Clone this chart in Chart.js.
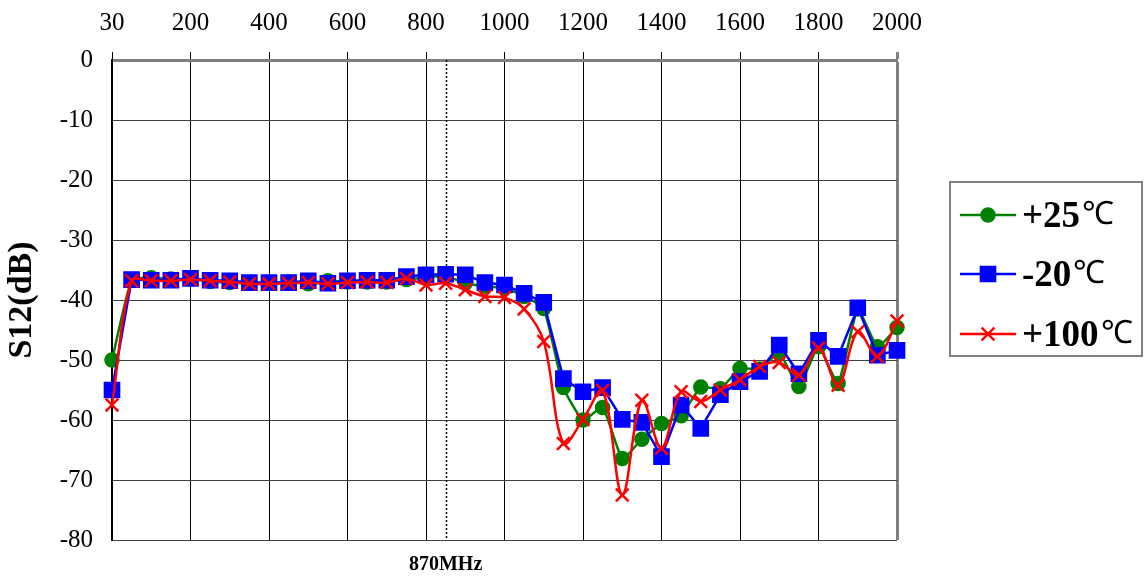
<!DOCTYPE html>
<html lang="en">
<head>
<meta charset="UTF-8">
<title>S12 vs frequency</title>
<script src="https://cdn.jsdelivr.net/npm/chart.js"></script>
<style>
  body { margin: 0; background: #fff; }
  #wrap { position: relative; width: 1144px; height: 578px; }
</style>
</head>
<body>
<div id="wrap"><canvas id="myChart" width="1144" height="578"></canvas></div>
<script>
// frequency points (MHz)
const freqs = ['30', '50', '100', '150', '200', '250', '300', '350', '400', '450',
  '500', '550', '600', '650', '700', '750', '800', '850', '900', '950',
  '1000', '1050', '1100', '1150', '1200', '1250', '1300', '1350', '1400', '1450',
  '1500', '1550', '1600', '1650', '1700', '1750', '1800', '1850', '1900', '1950', '2000'];

const s12At25 = [-50, -36.7, -36.3, -36.5, -36.5, -36.9, -37.1, -37.2, -37.2, -37.0,
  -37.3, -36.8, -37.0, -37.0, -37.0, -36.6, -36.2, -36.0, -37.2, -37.7,
  -38.0, -39.4, -41.4, -54.6, -60.0, -57.9, -66.4, -63.2, -60.6, -59.3,
  -54.5, -54.8, -51.4, -51.5, -48.9, -54.4, -47.8, -53.9, -41.5, -47.8, -44.6];

const s12AtMinus20 = [-55, -36.6, -36.7, -36.7, -36.4, -36.7, -36.8, -37.1, -37.1, -37.1,
  -36.8, -37.2, -36.8, -36.7, -36.7, -36.1, -35.8, -35.7, -35.8, -37.1,
  -37.5, -38.9, -40.4, -53.1, -55.3, -54.6, -59.9, -60.4, -66.1, -57.5,
  -61.4, -55.8, -53.6, -51.9, -47.5, -52.3, -46.7, -49.4, -41.3, -49.2, -48.4];

const s12At100 = [-57.5, -36.8, -36.8, -36.8, -36.6, -36.8, -37.0, -37.3, -37.3, -37.2,
  -37.1, -37.3, -37.1, -37.0, -37.1, -36.4, -37.5, -37.2, -38.3, -39.4,
  -39.6, -41.5, -46.9, -63.9, -59.9, -55.1, -72.5, -56.7, -64.7, -55.3,
  -56.9, -55.0, -53.3, -51.1, -50.4, -52.5, -48.0, -54.2, -45.3, -49.4, -43.5];

const markerIndex = 17;          // dotted marker line
const markerLabel = '870MHz';
const legendItems = [
  { text: '+25', color: '#008000', style: 'circle' },
  { text: '-20', color: '#0000ff', style: 'rect' },
  { text: '+100', color: '#ff0000', style: 'crossRot' }
];

const serif = '"Liberation Serif", "Times New Roman", serif';

// dotted 870MHz line and its label
const markerPlugin = {
  id: 'markerLine',
  beforeDatasetsDraw(chart) {
    const { ctx, chartArea, scales: { x } } = chart;
    const px = Math.round(x.getPixelForValue(markerIndex)) + 0.5;
    ctx.save();
    ctx.strokeStyle = '#000';
    ctx.lineWidth = 1.5;
    ctx.setLineDash([2, 2]);
    ctx.beginPath();
    ctx.moveTo(px, chartArea.top);
    ctx.lineTo(px, chartArea.bottom);
    ctx.stroke();
    ctx.restore();
  },
  afterDraw(chart) {
    const { ctx, chartArea, scales: { x } } = chart;
    const px = x.getPixelForValue(markerIndex);
    ctx.save();
    ctx.font = 'bold 20px ' + serif;
    ctx.fillStyle = '#000';
    ctx.textAlign = 'center';
    ctx.textBaseline = 'middle';
    ctx.fillText(markerLabel, px, chartArea.bottom + 25);
    ctx.restore();
  }
};

// boxed legend on the right
const boxLegendPlugin = {
  id: 'boxLegend',
  afterDraw(chart) {
    const { ctx } = chart;
    ctx.save();
    ctx.strokeStyle = '#808080';
    ctx.lineWidth = 2;
    ctx.strokeRect(950, 182, 192, 174);
    const rows = [215, 274, 334];
    legendItems.forEach((item, i) => {
      const y = rows[i];
      ctx.strokeStyle = item.color;
      ctx.lineWidth = 2.5;
      ctx.beginPath();
      ctx.moveTo(960, y);
      ctx.lineTo(1016, y);
      ctx.stroke();
      ctx.fillStyle = item.color;
      const r = item.style === 'circle' ? 6.5 : (item.style === 'rect' ? 10 : 9);
      Chart.helpers.drawPoint(ctx, { pointStyle: item.style, radius: r, borderWidth: 2.5, rotation: 0 }, 988, y);
      ctx.fillStyle = '#000';
      ctx.textAlign = 'left';
      ctx.textBaseline = 'middle';
      ctx.font = 'bold 37px ' + serif;
      ctx.fillText(item.text, 1022, y + 2);
      const w = ctx.measureText(item.text).width;
      ctx.font = '32px ' + serif;
      ctx.fillText('\u2103', 1022 + w + 2, y + 1);
    });
    ctx.restore();
  }
};

const config = {
  type: 'line',
  data: {
    labels: freqs,
    datasets: [
      {
        label: '+25℃', data: s12At25, order: 3,
        borderColor: '#008000', backgroundColor: '#008000',
        borderWidth: 2.5, pointStyle: 'circle', pointRadius: 6.5,
        tension: 0.15, clip: false
      },
      {
        label: '-20℃', data: s12AtMinus20, order: 2,
        borderColor: '#0000ff', backgroundColor: '#0000ff',
        borderWidth: 2.5, pointStyle: 'rect', pointRadius: 10,
        tension: 0, clip: false
      },
      {
        label: '+100℃', data: s12At100, order: 1,
        borderColor: '#ff0000', backgroundColor: '#ff0000',
        borderWidth: 2.5, pointStyle: 'crossRot', pointRadius: 9, pointBorderWidth: 2.5,
        tension: 0.35, clip: false
      }
    ]
  },
  options: {
    responsive: false,
    animation: false,
    layout: { autoPadding: false, padding: { left: 0, top: 0, right: 247, bottom: 38 } },
    plugins: {
      legend: { display: false },
      tooltip: { enabled: false }
    },
    elements: { point: { hoverRadius: 0 } },
    scales: {
      x: {
        type: 'category',
        position: 'top',
        afterFit(scale) { scale.height = 60; },
        ticks: {
          autoSkip: false,
          maxRotation: 0,
          padding: 14,
          color: '#000',
          font: { family: serif, size: 25 },
          callback(value, index) { return index % 4 === 0 ? freqs[index] : ''; }
        },
        grid: {
          tickLength: 8,
          color(ctx) {
            if (ctx.index === freqs.length - 1) return '#808080';
            return ctx.index % 4 === 0 ? '#000' : 'rgba(0,0,0,0)';
          },
          lineWidth(ctx) { return ctx.index === freqs.length - 1 ? 3 : 1; }
        },
        border: { color: '#808080', width: 3 }
      },
      y: {
        min: -80,
        max: 0,
        afterFit(scale) { scale.width = 112; },
        ticks: {
          stepSize: 10,
          padding: 19,
          color: '#000',
          font: { family: serif, size: 25 }
        },
        grid: {
          tickLength: 0,
          color(ctx) { return ctx.tick && ctx.tick.value === 0 ? '#808080' : '#404040'; },
          lineWidth(ctx) { return ctx.tick && ctx.tick.value === 0 ? 3 : 1; }
        },
        border: { color: '#000', width: 2 },
        title: {
          display: true,
          text: 'S12(dB)',
          color: '#000',
          padding: { top: 2, bottom: 0 },
          font: { family: serif, size: 34, weight: 'bold' }
        }
      }
    }
  },
  plugins: [markerPlugin, boxLegendPlugin]
};

new Chart(document.getElementById('myChart').getContext('2d'), config);
</script>
</body>
</html>
